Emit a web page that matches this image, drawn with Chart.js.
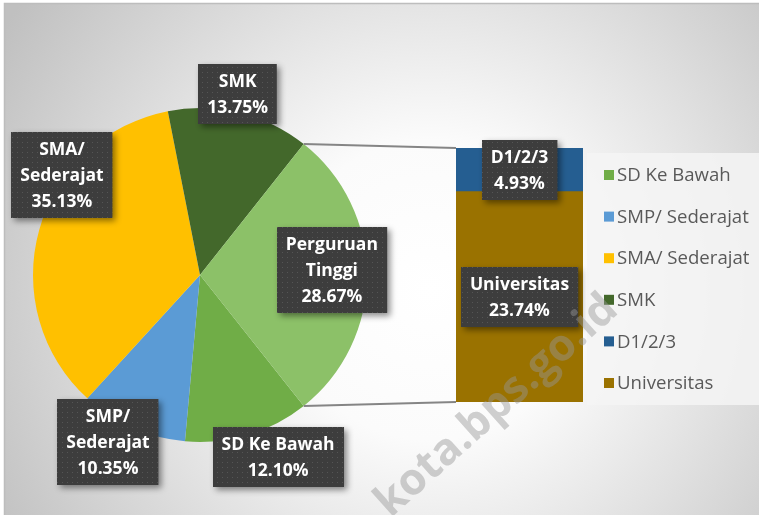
<!DOCTYPE html>
<html>
<head>
<meta charset="utf-8">
<script src="https://cdn.jsdelivr.net/npm/chart.js@4"></script>
<style>
  body { margin: 0; background: #ffffff; }
  #wrap { position: relative; width: 759px; height: 515px; overflow: hidden; }
  #wrap canvas { position: absolute; left: 0; top: 0; }
</style>
</head>
<body>
<div id="wrap">
  <canvas id="pieChart" width="759" height="515"></canvas>
  <canvas id="barChart" width="759" height="515"></canvas>
</div>
<script>
// pie slices, clockwise starting below the split-off slice
const pieLabels = ['SD Ke Bawah', 'SMP/ Sederajat', 'SMA/ Sederajat', 'SMK', 'Perguruan Tinggi'];
const pieValues = [12.10, 10.35, 35.13, 13.75, 28.67];
const pieColors = ['#70ad47', '#5b9bd5', '#ffc000', '#43682b', '#8cc168'];

// breakdown of "Perguruan Tinggi" (bottom to top)
const barLabels = ['Universitas', 'D1/2/3'];
const barValues = [23.74, 4.93];
const barColors = ['#9a7200', '#255e91'];

const legendLabels = ['SD Ke Bawah', 'SMP/ Sederajat', 'SMA/ Sederajat', 'SMK', 'D1/2/3', 'Universitas'];
const legendColors = ['#70ad47', '#5b9bd5', '#ffc000', '#43682b', '#255e91', '#9a7200'];

// label placement around each slice: [radius factor, angle shift in degrees]
const pieLabelPlace = [[1.186, -6.6], [1.14, 5.1], [1.02, 20.2], [1.11, -1.9], [0.79, -2.2]];

const labelFont = 'bold 17.5px "Open Sans"';
const lineH = 26;

function fmtPct(v) {
    return v.toFixed(2) + '%';
}

function wrapName(name) {
    const words = name.split(' ');
    return words.length === 2 ? words : [name];
}

// dotted dark fill like the Excel label style
const tile = document.createElement('canvas');
tile.width = 5; tile.height = 5;
const tctx = tile.getContext('2d');
tctx.fillStyle = '#3d3d3d';
tctx.fillRect(0, 0, 5, 5);
tctx.fillStyle = '#555555';
tctx.fillRect(2, 2, 1, 1);

function drawLabelBox(ctx, cx, cy, lines) {
    ctx.save();
    ctx.font = labelFont;
    let maxW = 0;
    lines.forEach(t => { maxW = Math.max(maxW, ctx.measureText(t).width); });
    const w = maxW + 18;
    const h = lines.length * lineH + 8;
    const x = Math.round(cx - w / 2);
    const y = Math.round(cy - h / 2);
    ctx.shadowColor = 'rgba(0,0,0,0.45)';
    ctx.shadowBlur = 6;
    ctx.shadowOffsetX = 3;
    ctx.shadowOffsetY = 3;
    ctx.fillStyle = ctx.createPattern(tile, 'repeat');
    ctx.fillRect(x, y, w, h);
    ctx.shadowColor = 'transparent';
    ctx.fillStyle = '#ffffff';
    ctx.textAlign = 'center';
    ctx.textBaseline = 'middle';
    lines.forEach((t, i) => {
        ctx.fillText(t, cx, y + 4 + lineH * (i + 0.5) + 1);
    });
    ctx.restore();
}

const backgroundPlugin = {
    id: 'background',
    beforeDraw(chart) {
        const ctx = chart.ctx;
        ctx.save();
        const g = ctx.createRadialGradient(430, 290, 0, 430, 290, 500);
        g.addColorStop(0, '#ffffff');
        g.addColorStop(0.3, '#fbfbfb');
        g.addColorStop(1, '#c0c0c0');
        ctx.fillStyle = '#ffffff';
        ctx.fillRect(0, 0, chart.width, chart.height);
        ctx.fillStyle = g;
        ctx.fillRect(4, 3, chart.width, chart.height);
        ctx.strokeStyle = '#bdbdbd';
        ctx.lineWidth = 1.5;
        ctx.beginPath();
        ctx.moveTo(4.5, chart.height);
        ctx.lineTo(4.5, 3.5);
        ctx.lineTo(chart.width, 3.5);
        ctx.stroke();
        ctx.restore();
    }
};

const pieLabelPlugin = {
    id: 'pieLabels',
    afterDraw(chart) {
        const ctx = chart.ctx;
        const arcs = chart.getDatasetMeta(0).data;
        arcs.forEach((arc, i) => {
            const mid = (arc.startAngle + arc.endAngle) / 2 + pieLabelPlace[i][1] * Math.PI / 180;
            const r = arc.outerRadius * pieLabelPlace[i][0];
            const cx = arc.x + Math.cos(mid) * r;
            const cy = arc.y + Math.sin(mid) * r;
            drawLabelBox(ctx, cx, cy, wrapName(pieLabels[i]).concat(fmtPct(pieValues[i])));
        });
    }
};

const ptShare = pieValues[pieValues.length - 1];

const pieChart = new Chart(document.getElementById('pieChart'), {
    type: 'pie',
    data: {
        labels: pieLabels,
        datasets: [{
            data: pieValues,
            backgroundColor: pieColors,
            borderWidth: 0,
            hoverBorderWidth: 0,
            hoverOffset: 0
        }]
    },
    options: {
        responsive: false,
        animation: false,
        events: [],
        rotation: 90 + ptShare * 1.8,
        layout: { padding: { left: 33, top: 108, right: 392, bottom: 73 } },
        plugins: {
            legend: { display: false },
            tooltip: { enabled: false }
        }
    },
    plugins: [backgroundPlugin, pieLabelPlugin]
});

const overlayPlugin = {
    id: 'overlay',
    beforeDatasetsDraw(chart) {
        const ctx = chart.ctx;
        // legend panel
        ctx.save();
        ctx.fillStyle = 'rgba(244,244,244,0.85)';
        ctx.fillRect(587, 153, 172, 252);
        ctx.restore();
    },
    afterDatasetsDraw(chart) {
        const ctx = chart.ctx;
        const bars = chart.getDatasetMeta(0).data;
        const topBars = chart.getDatasetMeta(1).data;
        const bottomBar = bars[0];
        const topBar = topBars[0];
        const barLeft = bottomBar.x - bottomBar.width / 2;

        // connector lines from the split slice to the bar
        const arcs = pieChart.getDatasetMeta(0).data;
        const pt = arcs[arcs.length - 1];
        const p1 = [pt.x + Math.cos(pt.startAngle) * pt.outerRadius, pt.y + Math.sin(pt.startAngle) * pt.outerRadius];
        const p2 = [pt.x + Math.cos(pt.endAngle) * pt.outerRadius, pt.y + Math.sin(pt.endAngle) * pt.outerRadius];
        ctx.save();
        ctx.strokeStyle = '#858585';
        ctx.lineWidth = 2;
        ctx.beginPath();
        ctx.moveTo(p1[0], p1[1]);
        ctx.lineTo(barLeft, topBar.y);
        ctx.moveTo(p2[0], p2[1]);
        ctx.lineTo(barLeft, bottomBar.base);
        ctx.stroke();
        ctx.restore();

        // legend
        ctx.save();
        ctx.font = '18.6px "Open Sans"';
        ctx.textBaseline = 'middle';
        legendLabels.forEach((name, i) => {
            const y = 175 + i * 41.6;
            ctx.fillStyle = legendColors[i];
            ctx.fillRect(604, y - 5, 10, 10);
            ctx.fillStyle = '#595959';
            ctx.fillText(name, 617, y + 1);
        });
        ctx.restore();

        // bar labels
        [bottomBar, topBar].forEach((bar, i) => {
            const cy = (bar.y + bar.base) / 2;
            drawLabelBox(ctx, bar.x, cy, [barLabels[i], fmtPct(barValues[i])]);
        });

        // faint watermark
        ctx.save();
        ctx.translate(620, 312);
        ctx.rotate(-42 * Math.PI / 180);
        ctx.font = 'bold 44px "Open Sans"';
        ctx.textAlign = 'right';
        ctx.fillStyle = 'rgba(150,150,150,0.45)';
        ctx.fillText('kota.bps.go.id', 0, 0);
        ctx.restore();
    }
};

const barChart = new Chart(document.getElementById('barChart'), {
    type: 'bar',
    data: {
        labels: [''],
        datasets: barLabels.map((name, i) => ({
            label: name,
            data: [barValues[i]],
            backgroundColor: barColors[i],
            borderWidth: 0,
            barPercentage: 1,
            categoryPercentage: 1
        }))
    },
    options: {
        responsive: false,
        animation: false,
        events: [],
        layout: { padding: { left: 456, right: 176, top: 148, bottom: 113 } },
        scales: {
            x: { stacked: true, display: false },
            y: { stacked: true, display: false, min: 0, max: ptShare }
        },
        plugins: {
            legend: { display: false },
            tooltip: { enabled: false }
        }
    },
    plugins: [overlayPlugin]
});
</script>
</body>
</html>
